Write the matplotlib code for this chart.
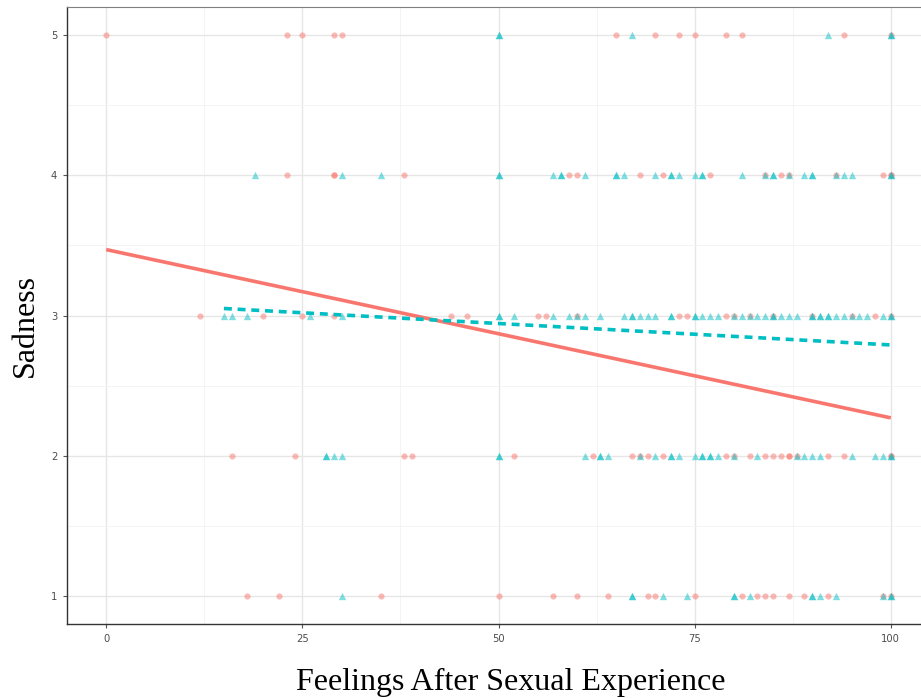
import numpy as np
import matplotlib
matplotlib.use("Agg")
import matplotlib.pyplot as plt

RED = "#F8766D"
TEAL = "#00BFC4"

# feelings score for each respondent, grouped by sadness level (1..5)
red_x = {
    5: [0, 23, 25, 29, 30, 65, 70, 73, 75, 79, 81, 94, 100],
    4: [23, 29, 29, 38, 59, 60, 68, 71, 77, 84, 86, 87, 93, 99, 100, 100],
    3: [12, 20, 25, 29, 44, 46, 55, 56, 60, 73, 74, 79, 80, 82, 85, 90, 95, 98, 100],
    2: [16, 24, 38, 39, 52, 62, 67, 68, 69, 71, 79, 80, 82, 84, 85, 86, 87, 87, 88, 92, 94, 100, 100],
    1: [18, 22, 35, 50, 57, 60, 64, 69, 70, 75, 81, 83, 84, 85, 87, 89, 92, 99, 100],
}
teal_x = {
    5: [50, 50, 67, 92, 100, 100],
    4: [19, 30, 35, 50, 50, 57, 58, 58, 61, 65, 65, 66, 70, 72, 72, 73, 75, 76, 76,
        81, 84, 85, 85, 87, 89, 90, 90, 93, 94, 95, 100, 100],
    3: [15, 16, 18, 26, 30, 50, 50, 52, 57, 59, 60, 61, 63, 66, 67, 67, 68, 69, 70,
        72, 72, 75, 75, 76, 77, 78, 80, 81, 82, 83, 84, 85, 85, 86, 87, 88, 90, 90,
        91, 91, 92, 92, 93, 94, 95, 96, 97, 99, 100, 100],
    2: [28, 28, 29, 30, 50, 50, 61, 63, 63, 64, 68, 70, 72, 72, 73, 75, 76, 76, 77,
        77, 78, 80, 83, 88, 89, 90, 91, 95, 98, 99, 100, 100],
    1: [30, 67, 67, 71, 74, 80, 80, 82, 90, 90, 91, 93, 99, 100, 100],
}

# linear fits per group: x range and fitted sadness at both ends
red_fit_x = [0, 100]
red_fit_y = [3.47, 2.27]
teal_fit_x = [15, 100]
teal_fit_y = [3.05, 2.79]

xticks = [0, 25, 50, 75, 100]
yticks = [1, 2, 3, 4, 5]

fig = plt.figure(figsize=(9.21, 6.98), dpi=100)
# panel runs off the right edge of the figure
ax = fig.add_axes([67 / 921, 1 - 624 / 698, 863 / 921, 617 / 698])
ax.set_xlim(-5, 105)
ax.set_ylim(0.8, 5.2)

for lvl in yticks:
    ax.scatter(red_x[lvl], [lvl] * len(red_x[lvl]), s=20, marker="o",
               color=RED, alpha=0.5, linewidths=0, zorder=3)
    ax.scatter(teal_x[lvl], [lvl] * len(teal_x[lvl]), s=28, marker="^",
               color=TEAL, alpha=0.5, linewidths=0, zorder=3)

ax.plot(red_fit_x, red_fit_y, color=RED, lw=2.6, solid_capstyle="butt", zorder=4)
ax.plot(teal_fit_x, teal_fit_y, color=TEAL, lw=2.6, dashes=(2.2, 1.6), zorder=4)

ax.set_xticks(xticks)
ax.set_yticks(yticks)
ax.set_xticks([12.5, 37.5, 62.5, 87.5], minor=True)
ax.set_yticks([1.5, 2.5, 3.5, 4.5], minor=True)
ax.grid(True, which="major", color="#e6e6e6", lw=1.0, zorder=0)
ax.grid(True, which="minor", color="#f2f2f2", lw=0.6, zorder=0)
ax.set_axisbelow(True)
ax.tick_params(which="minor", length=0)
ax.tick_params(which="major", length=3, width=0.8, color="#555555",
               labelcolor="#4d4d4d", labelsize=8, pad=4)
for lab in ax.get_xticklabels() + ax.get_yticklabels():
    lab.set_family("DejaVu Sans")
    lab.set_stretch("condensed")

for side in ["top", "right"]:
    ax.spines[side].set_color("#7f7f7f")
    ax.spines[side].set_linewidth(0.8)
for side in ["left", "bottom"]:
    ax.spines[side].set_color("#333333")
    ax.spines[side].set_linewidth(1.0)

fig.text(511 / 921, 1 - 682 / 698, "Feelings After Sexual Experience",
         family="Liberation Serif", fontsize=23, ha="center", va="center")
fig.text(25 / 921, 1 - 325 / 698, "Sadness", family="Liberation Serif",
         fontsize=23, rotation=90, ha="center", va="center")

fig.savefig("out.png", dpi=100)
